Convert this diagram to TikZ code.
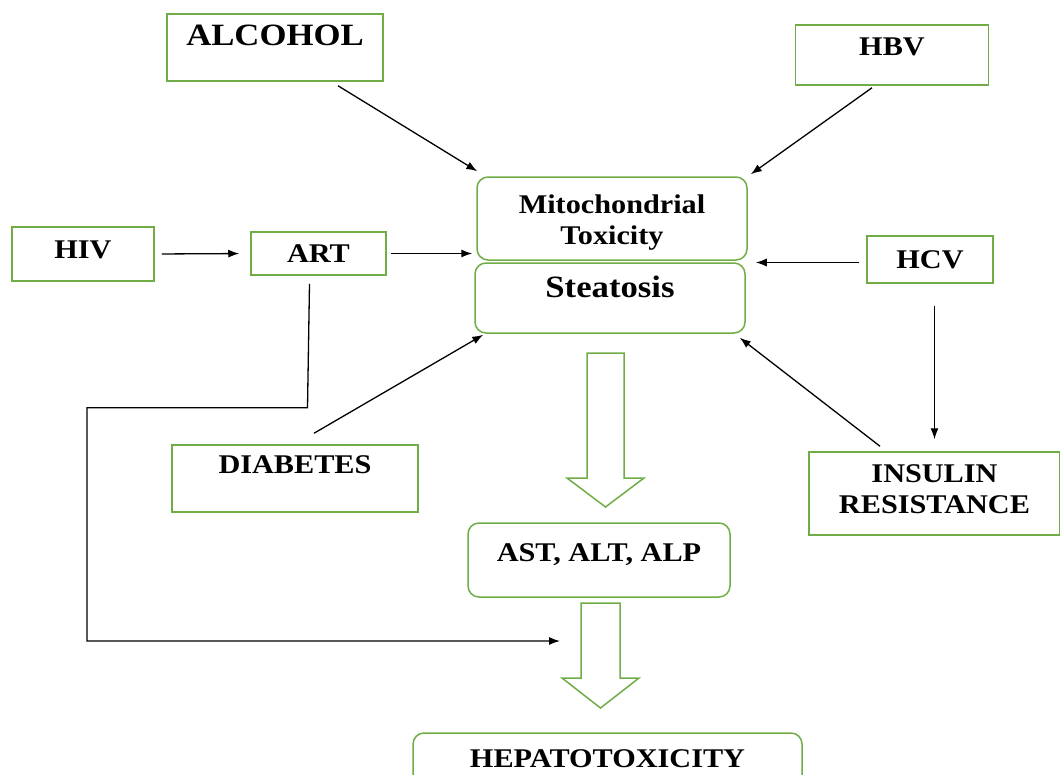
\documentclass[tikz,border=0pt]{standalone}
\usepackage{fontspec}
\setmainfont[FakeStretch=1.12]{Liberation Serif}
\usepackage{xcolor}
\usepackage{tikz}
\usetikzlibrary{arrows.meta}
\definecolor{boxgreen}{RGB}{112,173,71}

\begin{document}
\begin{tikzpicture}[x=1pt, y=-1pt, every node/.style={inner sep=0pt},
  box/.style={draw=boxgreen, line width=1.5pt, align=center,
    font=\fontsize{27}{31}\selectfont\bfseries, text height=18pt},
  bigbox/.style={box, font=\fontsize{31}{35}\selectfont\bfseries, text height=20.5pt},
  rbox/.style={box, rounded corners=11pt},
  link/.style={-{Latex[length=11pt,width=8pt]}, line width=1.3pt, black},
  fat/.style={draw=boxgreen, line width=1.5pt, fill=white}]
\useasboundingbox (0,0) rectangle (1060,774);
\node[bigbox, minimum width=216pt, minimum height=67pt, text depth=25pt] (alc) at (275,47.5) {ALCOHOL};
\node[box, minimum width=193pt, minimum height=60pt, text depth=18pt] (hbv) at (892,55) {HBV};
\node[box, minimum width=142pt, minimum height=54pt, text depth=10pt] (hiv) at (83,254) {HIV};
\node[box, minimum width=135pt, minimum height=43pt, text depth=0pt] (art) at (318.5,253.5) {ART};
\node[rbox, minimum width=270pt, minimum height=83pt, text height=51pt, text depth=0pt] (mito) at (612,218.5) {Mitochondrial\\Toxicity};
\node[bigbox, rounded corners=11pt, minimum width=270pt, minimum height=70pt, text depth=21pt] (steat) at (610,298) {Steatosis};
\node[box, minimum width=126pt, minimum height=47pt, text depth=0pt] (hcv) at (930,259.5) {HCV};
\node[box, minimum width=246pt, minimum height=67pt, text depth=29pt] (diab) at (295,478.5) {DIABETES};
\node[box, minimum width=251pt, minimum height=83pt, text height=39pt, text depth=0pt] (ins) at (934.5,493.5) {INSULIN\\RESISTANCE};
\node[rbox, minimum width=262pt, minimum height=74pt, text depth=15pt] (ast) at (599,560) {AST, ALT, ALP};
\node[rbox, minimum width=389pt, minimum height=62pt, text depth=11pt] (hep) at (607.5,764) {HEPATOTOXICITY};
\coordinate (artend) at (560,641);

\draw[link] ([xshift=63pt,yshift=-4pt]alc.south) -- ([xshift=1pt,yshift=5pt]mito.north west);
\draw[link] ([xshift=-20pt,yshift=-2pt]hbv.south) -- ([xshift=3pt,yshift=2pt]mito.north east);
\draw[link, shorten <=7pt, shorten >=11pt] (hiv.east) -- (art.west);
\draw[link, shorten <=4pt, shorten >=4pt] (art.east) -- (art.east -| mito.west);
\draw[link, shorten <=7pt, shorten >=10pt] ([yshift=-3pt]hcv.west) -- ([yshift=-3pt]hcv.west -| steat.east);
\draw[link, shorten <=22pt, shorten >=12pt] (hcv.south -| ins.north) -- (ins.north);
\draw[link] ([xshift=-54.5pt,yshift=5pt]ins.north) -- ([xshift=-6pt,yshift=-4pt]steat.south east);
\draw[link] ([xshift=19pt,yshift=11pt]diab.north) -- ([xshift=9pt,yshift=-1pt]steat.south west);
\draw[link] ([xshift=-9pt,yshift=-8pt]art.south) -- ++(-2,124) -| (87,641) -- (artend);

\draw[fat] (587,353) -- (624,353) -- (624,478) -- (644,478) -- (605.5,507) -- (567,478) -- (587,478) -- cycle;
\draw[fat] (581,603) -- (620,603) -- (620,678) -- (639,678) -- (600.5,708) -- (562,678) -- (581,678) -- cycle;
\end{tikzpicture}
\end{document}
